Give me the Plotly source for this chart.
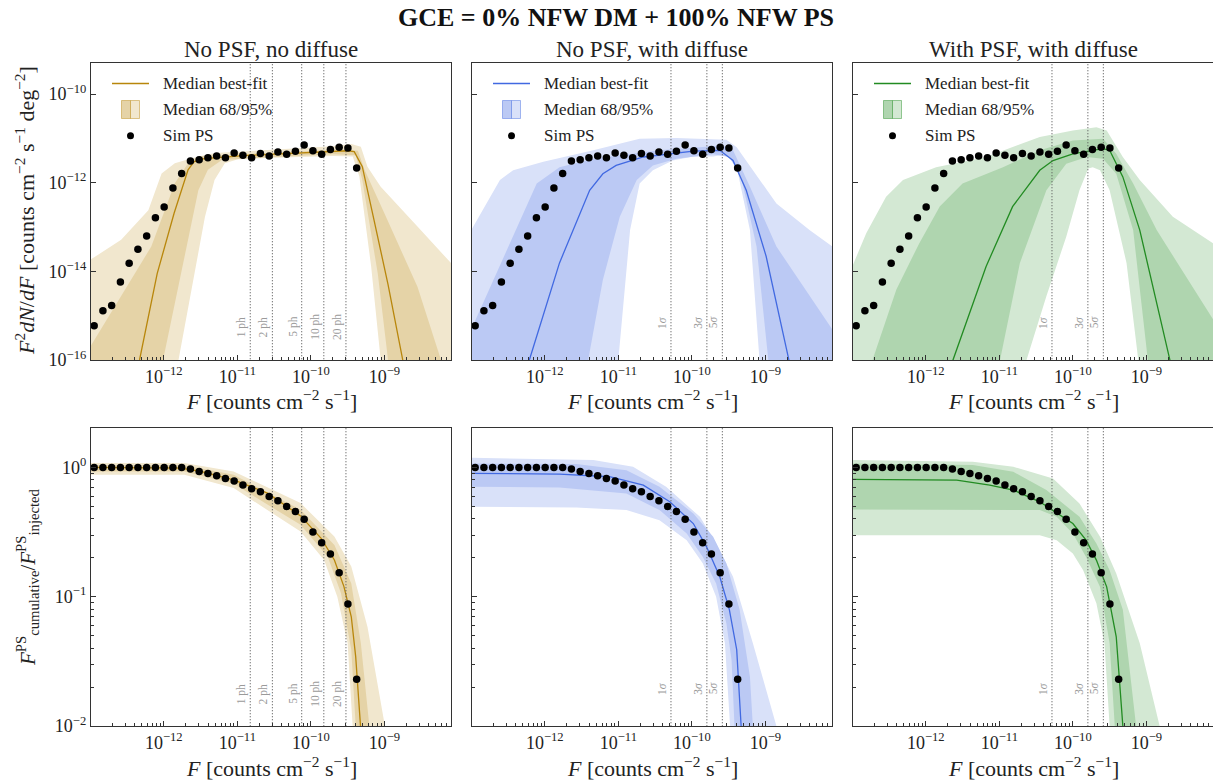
import math
import plotly.graph_objects as go

# ------------------------------------------------------------------ data
# simulated PS histogram (log10 flux bin centres)
sim_log_flux = [-12.947, -12.828, -12.709, -12.590, -12.471, -12.352, -12.233, -12.114,
                -11.995, -11.876, -11.757, -11.638, -11.519, -11.400, -11.281, -11.162,
                -11.043, -10.924, -10.805, -10.686, -10.567, -10.448, -10.329, -10.210,
                -10.091, -9.972, -9.853, -9.734, -9.615, -9.496, -9.377]
# log10 of F^2 dN/dF
sim_log_f2dnds = [-15.23, -14.89, -14.77, -14.24, -13.82, -13.50, -13.20, -12.79,
                  -12.55, -12.12, -11.79, -11.51, -11.48, -11.44, -11.40, -11.44,
                  -11.33, -11.38, -11.44, -11.34, -11.40, -11.31, -11.36, -11.29,
                  -11.15, -11.28, -11.36, -11.25, -11.20, -11.22, -11.67]
# cumulative flux fraction
sim_cumulative = [1.0, 1.0, 1.0, 1.0, 1.0, 1.0, 1.0, 1.0, 1.0, 1.0, 1.0,
                  0.971, 0.931, 0.898, 0.862, 0.822, 0.784, 0.730, 0.684, 0.648, 0.596,
                  0.552, 0.499, 0.456, 0.397, 0.317, 0.262, 0.214, 0.153, 0.0877, 0.023]

# curves: (log10 F, log10 value)
gold_top_median = [(-12.40, -16.4), (-12.33, -16.0), (-12.09, -14.05), (-11.86, -12.69), (-11.67, -11.71),
                   (-11.59, -11.53), (-11.50, -11.47), (-11.41, -11.45), (-10.82, -11.38), (-10.14, -11.32),
                   (-9.50, -11.28), (-9.41, -11.30), (-9.30, -11.64), (-9.14, -12.85), (-8.95, -14.3),
                   (-8.75, -16.0), (-8.70, -16.4)]
gold_top_95_upper = [(-13.0, -13.74), (-12.58, -13.29), (-12.21, -12.62), (-12.03, -11.79), (-11.85, -11.56),
                     (-11.62, -11.45), (-11.30, -11.33), (-10.50, -11.25), (-9.70, -11.18), (-9.45, -11.13),
                     (-9.32, -11.19), (-9.23, -11.64), (-9.05, -12.09), (-8.55, -12.99), (-8.09, -13.82)]
gold_top_95_lower = [(-13.0, -17.5), (-11.80, -16.0), (-11.44, -12.77), (-11.31, -11.94), (-11.17, -11.56),
                     (-10.99, -11.47), (-10.50, -11.44), (-9.70, -11.40), (-9.43, -11.41), (-9.34, -11.86),
                     (-9.18, -13.89), (-9.05, -16.0), (-8.09, -17.5)]
gold_top_68_upper = [(-13.0, -15.7), (-12.17, -13.44), (-11.85, -12.01), (-11.67, -11.56), (-11.50, -11.40),
                     (-10.50, -11.32), (-9.60, -11.25), (-9.36, -11.28), (-9.27, -11.71), (-9.00, -12.69),
                     (-8.55, -14.35), (-8.23, -16.0), (-8.09, -16.8)]
gold_top_68_lower = [(-13.0, -17.5), (-12.01, -16.0), (-11.53, -12.17), (-11.40, -11.71), (-11.21, -11.49),
                     (-10.50, -11.42), (-9.70, -11.36), (-9.39, -11.38), (-9.30, -11.94), (-9.09, -14.05),
                     (-8.95, -16.0), (-8.09, -17.5)]

blue_top_median = [(-12.24, -16.4), (-12.21, -16.0), (-11.80, -13.81), (-11.39, -12.17), (-11.21, -11.80),
                   (-11.03, -11.61), (-10.66, -11.42), (-9.98, -11.29), (-9.62, -11.27), (-9.44, -11.50),
                   (-9.26, -12.17), (-8.99, -13.66), (-8.68, -16.0), (-8.65, -16.4)]
blue_top_95_upper = [(-13.0, -13.07), (-12.79, -12.47), (-12.61, -11.94), (-12.43, -11.72), (-12.02, -11.53),
                     (-11.34, -11.27), (-10.71, -11.01), (-10.21, -10.99), (-9.53, -11.03), (-9.39, -11.20),
                     (-9.17, -11.72), (-8.85, -12.47), (-8.40, -13.07), (-8.09, -13.44)]
blue_top_95_lower = [(-13.0, -17.5), (-11.00, -16.0), (-10.84, -13.07), (-10.71, -12.02), (-10.53, -11.72),
                     (-10.26, -11.50), (-9.98, -11.41), (-9.71, -11.41), (-9.53, -11.36), (-9.39, -11.65),
                     (-9.21, -13.07), (-9.08, -16.0), (-8.09, -17.5)]
blue_top_68_upper = [(-13.0, -15.31), (-12.70, -14.19), (-12.39, -13.07), (-12.11, -12.02), (-11.80, -11.65),
                     (-11.34, -11.46), (-10.44, -11.27), (-9.58, -11.16), (-9.44, -11.27), (-9.21, -12.09),
                     (-8.85, -13.44), (-8.09, -15.31)]
blue_top_68_lower = [(-13.0, -17.5), (-11.41, -16.0), (-11.21, -14.19), (-10.98, -12.77), (-10.75, -11.94),
                     (-10.53, -11.61), (-10.21, -11.46), (-9.71, -11.36), (-9.49, -11.42), (-9.33, -11.87),
                     (-9.12, -13.44), (-8.96, -16.0), (-8.09, -17.5)]

green_top_median = [(-11.65, -16.4), (-11.63, -16.0), (-11.18, -13.89), (-10.82, -12.54), (-10.45, -11.72),
                    (-10.27, -11.50), (-10.00, -11.35), (-9.59, -11.23), (-9.50, -11.27), (-9.32, -11.87),
                    (-9.09, -13.07), (-8.68, -16.0), (-8.65, -16.4)]
green_top_95_upper = [(-13.0, -13.89), (-12.81, -13.14), (-12.54, -12.32), (-12.31, -11.94), (-11.86, -11.65),
                      (-11.18, -11.42), (-10.45, -10.97), (-10.00, -10.82), (-9.68, -10.75), (-9.54, -10.82),
                      (-9.32, -11.42), (-9.09, -11.94), (-8.64, -12.77), (-8.09, -13.37)]
green_top_95_lower = [(-13.0, -17.5), (-10.63, -16.0), (-10.36, -14.56), (-10.09, -13.22), (-9.91, -12.17),
                      (-9.79, -11.68), (-9.73, -11.65), (-9.63, -11.72), (-9.50, -12.17), (-9.27, -13.81),
                      (-9.11, -16.0), (-8.09, -17.5)]
green_top_68_upper = [(-12.76, -16.4), (-12.72, -15.98), (-12.40, -14.41), (-12.09, -13.37), (-11.81, -12.54),
                      (-11.50, -12.02), (-10.95, -11.65), (-10.45, -11.27), (-10.00, -11.05), (-9.59, -11.01),
                      (-9.41, -11.35), (-9.18, -12.02), (-8.86, -13.07), (-8.09, -15.09)]
green_top_68_lower = [(-12.80, -17.5), (-10.99, -16.0), (-10.72, -13.81), (-10.36, -12.17), (-10.09, -11.57),
                      (-9.81, -11.42), (-9.59, -11.46), (-9.41, -11.80), (-9.18, -13.07), (-8.98, -16.0),
                      (-8.09, -17.5)]

gold_bot_median = [(-13.0, 0.0), (-11.77, -0.005), (-11.50, -0.031), (-11.05, -0.096), (-10.59, -0.199),
                   (-10.14, -0.375), (-9.86, -0.548), (-9.68, -0.716), (-9.55, -0.922), (-9.45, -1.155),
                   (-9.39, -1.465), (-9.32, -2.0), (-9.30, -2.2)]
gold_bot_95_upper = [(-13.0, 0.034), (-11.72, 0.034), (-11.05, -0.031), (-10.14, -0.276), (-9.68, -0.535),
                     (-9.45, -0.767), (-9.23, -1.233), (-8.98, -2.0), (-8.90, -2.3)]
gold_bot_95_lower = [(-13.0, -0.057), (-11.72, -0.057), (-11.05, -0.160), (-10.14, -0.496), (-9.82, -0.716),
                     (-9.64, -1.0), (-9.50, -1.36), (-9.43, -2.0), (-9.40, -2.3)]
gold_bot_68_upper = [(-13.0, 0.016), (-11.72, 0.016), (-11.05, -0.057), (-10.14, -0.328), (-9.68, -0.600),
                     (-9.45, -0.897), (-9.32, -1.36), (-9.20, -2.0), (-9.15, -2.3)]
gold_bot_68_lower = [(-13.0, -0.031), (-11.72, -0.031), (-11.05, -0.127), (-10.14, -0.444), (-9.77, -0.690),
                     (-9.59, -0.974), (-9.45, -1.413), (-9.39, -2.0), (-9.36, -2.3)]

blue_bot_median = [(-13.0, -0.046), (-11.80, -0.052), (-11.12, -0.072), (-10.66, -0.137), (-10.30, -0.266),
                   (-9.98, -0.434), (-9.80, -0.614), (-9.62, -0.846), (-9.49, -1.10), (-9.39, -1.41),
                   (-9.33, -2.0), (-9.32, -2.2)]
blue_bot_95_upper = [(-13.0, 0.075), (-11.34, 0.057), (-10.80, 0.005), (-10.35, -0.150), (-9.89, -0.382),
                     (-9.67, -0.588), (-9.44, -0.846), (-9.17, -1.36), (-8.85, -2.0), (-8.80, -2.2)]
blue_bot_95_lower = [(-13.0, -0.305), (-11.57, -0.310), (-10.89, -0.330), (-10.44, -0.408), (-10.07, -0.563),
                     (-9.85, -0.743), (-9.67, -1.0), (-9.55, -1.36), (-9.48, -2.0), (-9.47, -2.2)]
blue_bot_68_upper = [(-13.0, 0.031), (-11.57, 0.026), (-10.89, -0.021), (-10.44, -0.150), (-9.98, -0.356),
                     (-9.71, -0.537), (-9.53, -0.743), (-9.35, -1.10), (-9.21, -1.62), (-9.17, -2.0), (-9.15, -2.2)]
blue_bot_68_lower = [(-13.0, -0.150), (-11.80, -0.155), (-10.89, -0.201), (-10.44, -0.330), (-10.07, -0.511),
                     (-9.85, -0.692), (-9.67, -0.898), (-9.53, -1.208), (-9.46, -1.49), (-9.42, -2.0), (-9.41, -2.2)]

green_bot_median = [(-13.0, -0.093), (-11.58, -0.098), (-11.13, -0.137), (-10.81, -0.175), (-10.45, -0.266),
                    (-10.00, -0.434), (-9.82, -0.563), (-9.68, -0.717), (-9.54, -0.924), (-9.41, -1.31),
                    (-9.32, -2.0), (-9.31, -2.2)]
green_bot_95_upper = [(-13.0, 0.057), (-11.36, 0.044), (-10.81, 0.005), (-10.27, -0.085), (-9.91, -0.279),
                      (-9.63, -0.537), (-9.41, -0.821), (-9.09, -1.36), (-8.82, -2.0), (-8.78, -2.2)]
green_bot_95_lower = [(-13.0, -0.524), (-10.45, -0.524), (-10.22, -0.563), (-10.00, -0.666), (-9.86, -0.795),
                      (-9.68, -1.05), (-9.57, -1.36), (-9.50, -2.0), (-9.49, -2.2)]
green_bot_68_upper = [(-13.0, 0.031), (-11.36, 0.018), (-10.81, -0.034), (-10.36, -0.175), (-9.91, -0.382),
                      (-9.68, -0.588), (-9.50, -0.795), (-9.32, -1.10), (-9.14, -2.0), (-9.12, -2.2)]
green_bot_68_lower = [(-13.0, -0.325), (-10.45, -0.330), (-10.22, -0.382), (-10.00, -0.511), (-9.82, -0.692),
                      (-9.63, -0.924), (-9.50, -1.36), (-9.43, -2.0), (-9.42, -2.2)]

ph_flux = [1.5e-11, 3e-11, 7.5e-11, 1.5e-10, 3e-10]
ph_labels = ["1 ph", "2 ph", "5 ph", "10 ph", "20 ph"]
sigma_flux = [5.2e-11, 1.6e-10, 2.6e-10]
sigma_labels = ["1<i>σ</i>", "3<i>σ</i>", "5<i>σ</i>"]

panel_titles = ["No PSF, no diffuse", "No PSF, with diffuse", "With PSF, with diffuse"]
main_title = "GCE = 0% NFW DM + 100% NFW PS"
legend_labels = ["Median best-fit", "Median 68/95%", "Sim PS"]

x_ticks = [1e-12, 1e-11, 1e-10, 1e-9]
x_ticktext = ["10<sup>−12</sup>", "10<sup>−11</sup>", "10<sup>−10</sup>", "10<sup>−9</sup>"]
ytop_ticks = [1e-16, 1e-14, 1e-12, 1e-10]
ytop_ticktext = ["10<sup>−16</sup>", "10<sup>−14</sup>", "10<sup>−12</sup>", "10<sup>−10</sup>"]
ybot_ticks = [1e-2, 1e-1, 1.0]
ybot_ticktext = ["10<sup>−2</sup>", "10<sup>−1</sup>", "10<sup>0</sup>"]

# ------------------------------------------------------------------ style
W, H = 1213, 781
FONT = "Liberation Serif"
themes = [
    dict(line="#b8860b", light="rgb(241,231,206)", dark="rgb(229,211,167)", edge="rgba(184,134,11,0.45)"),
    dict(line="#4169e1", light="rgb(217,225,249)", dark="rgb(187,201,244)", edge="rgba(65,105,225,0.45)"),
    dict(line="#228b22", light="rgb(211,232,211)", dark="rgb(175,213,175)", edge="rgba(34,139,34,0.45)"),
]
top_curves = [
    (gold_top_median, gold_top_95_upper, gold_top_95_lower, gold_top_68_upper, gold_top_68_lower),
    (blue_top_median, blue_top_95_upper, blue_top_95_lower, blue_top_68_upper, blue_top_68_lower),
    (green_top_median, green_top_95_upper, green_top_95_lower, green_top_68_upper, green_top_68_lower),
]
bot_curves = [
    (gold_bot_median, gold_bot_95_upper, gold_bot_95_lower, gold_bot_68_upper, gold_bot_68_lower),
    (blue_bot_median, blue_bot_95_upper, blue_bot_95_lower, blue_bot_68_upper, blue_bot_68_lower),
    (green_bot_median, green_bot_95_upper, green_bot_95_lower, green_bot_68_upper, green_bot_68_lower),
]

col_px = [(91, 451), (472, 832), (853, 1213)]
row_px = [(63, 360), (428, 726)]


def X(px):
    return px / W


def Y(py):
    return 1 - py / H


def pts(seq):
    return [10 ** a for a, b in seq], [10 ** b for a, b in seq]


def band(upper, lower):
    ux, uy = pts(upper)
    lx, ly = pts(lower)
    return ux + lx[::-1], uy + ly[::-1]


fig = go.Figure()
annotations = []
shapes = []
layout_axes = {}

sim_flux = [10 ** v for v in sim_log_flux]
sim_f2 = [10 ** v for v in sim_log_f2dnds]

minor_x = [m * 10 ** k for k in range(-13, -8) for m in range(2, 10)]
minor_ybot = [m * 10 ** k for k in (-2, -1, 0) for m in range(2, 10)]

for i in range(6):
    row, col = divmod(i, 3)
    xa = "x" if i == 0 else f"x{i + 1}"
    ya = "y" if i == 0 else f"y{i + 1}"
    th = themes[col]
    curves = top_curves[col] if row == 0 else bot_curves[col]
    med, u95, l95, u68, l68 = curves

    bx, by = band(u95, l95)
    fig.add_trace(go.Scatter(x=bx, y=by, fill="toself", fillcolor=th["light"], mode="lines",
                             line=dict(width=0), xaxis=xa, yaxis=ya, hoverinfo="skip"))
    bx, by = band(u68, l68)
    fig.add_trace(go.Scatter(x=bx, y=by, fill="toself", fillcolor=th["dark"], mode="lines",
                             line=dict(width=0), xaxis=xa, yaxis=ya, hoverinfo="skip"))
    mx, my = pts(med)
    fig.add_trace(go.Scatter(x=mx, y=my, mode="lines", line=dict(color=th["line"], width=1.3),
                             xaxis=xa, yaxis=ya, hoverinfo="skip"))

    vflux = ph_flux if col == 0 else sigma_flux
    vlab = ph_labels if col == 0 else sigma_labels
    ylim = (1e-17, 1e-9) if row == 0 else (1e-3, 3.0)
    for v, lab in zip(vflux, vlab):
        fig.add_trace(go.Scatter(x=[v, v], y=list(ylim), mode="lines",
                                 line=dict(color="#555555", width=1.1, dash="1px,2px"),
                                 xaxis=xa, yaxis=ya, hoverinfo="skip"))
        if col == 0:
            ly = 327 if row == 0 else 694
        else:
            ly = 322 if row == 0 else 688
        annotations.append(dict(x=math.log10(v), y=Y(ly), xref=xa, yref="paper", text=lab,
                                textangle=-90, showarrow=False, xanchor="center", yanchor="middle",
                                xshift=-9, font=dict(family=FONT, size=11.5, color="#9a9a9a")))

    yvals = sim_f2 if row == 0 else sim_cumulative
    fig.add_trace(go.Scatter(x=sim_flux, y=yvals, mode="markers",
                             marker=dict(color="black", size=7.5, line=dict(width=0)),
                             xaxis=xa, yaxis=ya, hoverinfo="skip", cliponaxis=False))

    x0, x1 = col_px[col]
    y0, y1 = row_px[row]
    axis_common = dict(showline=True, linecolor="#333333", linewidth=1.3, mirror=True,
                       showgrid=False, zeroline=False, ticks="inside", ticklen=5,
                       tickcolor="#333333", tickwidth=1, automargin=False,
                       tickfont=dict(family=FONT, size=18, color="#222222"))
    xkey = "xaxis" if i == 0 else f"xaxis{i + 1}"
    ykey = "yaxis" if i == 0 else f"yaxis{i + 1}"
    layout_axes[xkey] = dict(axis_common, type="log", range=[-12.99, -8.094],
                             domain=[X(x0), X(x1)], anchor=ya,
                             tickmode="array", tickvals=x_ticks, ticktext=x_ticktext,
                             minor=dict(tickmode="array", tickvals=minor_x, ticks="inside",
                                        ticklen=2.5, tickcolor="#333333"))
    if row == 0:
        layout_axes[ykey] = dict(axis_common, type="log", range=[-16, -9.3],
                                 domain=[Y(y1), Y(y0)], anchor=xa,
                                 tickmode="array", tickvals=ytop_ticks, ticktext=ytop_ticktext,
                                 showticklabels=(col == 0))
    else:
        layout_axes[ykey] = dict(axis_common, type="log", range=[-2, 0.305],
                                 domain=[Y(y1), Y(y0)], anchor=xa,
                                 tickmode="array", tickvals=ybot_ticks, ticktext=ybot_ticktext,
                                 showticklabels=(col == 0),
                                 minor=dict(tickmode="array", tickvals=minor_ybot, ticks="inside",
                                            ticklen=2.5, tickcolor="#333333"))

    # x axis title
    annotations.append(dict(x=X((x0 + x1) / 2), y=Y(400 if row == 0 else 767), xref="paper", yref="paper",
                            text="<i>F</i> [counts cm<sup>−2</sup> s<sup>−1</sup>]", showarrow=False,
                            xanchor="center", yanchor="middle",
                            font=dict(family=FONT, size=22, color="#222222")))

    if row == 0:
        # panel title
        annotations.append(dict(x=X((x0 + x1) / 2), y=Y(50), xref="paper", yref="paper",
                                text=panel_titles[col], showarrow=False, xanchor="center", yanchor="middle",
                                font=dict(family=FONT, size=23, color="#222222")))
        # legend
        L = x0
        shapes.append(dict(type="line", xref="paper", yref="paper", x0=X(L + 21), x1=X(L + 58),
                           y0=Y(83.5), y1=Y(83.5), line=dict(color=th["line"], width=1.5)))
        shapes.append(dict(type="rect", xref="paper", yref="paper", x0=X(L + 30.5), x1=X(L + 39.5),
                           y0=Y(118.5), y1=Y(100.5), fillcolor=th["dark"], line=dict(color=th["edge"], width=1)))
        shapes.append(dict(type="rect", xref="paper", yref="paper", x0=X(L + 39.5), x1=X(L + 48.5),
                           y0=Y(118.5), y1=Y(100.5), fillcolor=th["light"], line=dict(color=th["edge"], width=1)))
        shapes.append(dict(type="circle", xref="paper", yref="paper", x0=X(L + 36), x1=X(L + 43),
                           y0=Y(139.2), y1=Y(132.2), fillcolor="black", line=dict(color="black", width=0)))
        for lab, ty in zip(legend_labels, [83.5, 109.5, 135.7]):
            annotations.append(dict(x=X(L + 70), y=Y(ty), xref="paper", yref="paper", text=lab,
                                    showarrow=False, xanchor="left", yanchor="middle",
                                    font=dict(family=FONT, size=17, color="#222222")))

# y axis titles
annotations.append(dict(x=X(25), y=Y(211), xref="paper", yref="paper",
                        text="<i>F</i><sup>2</sup><i>dN</i>/<i>dF</i> [counts cm<sup>−2</sup> s<sup>−1</sup> deg<sup>−2</sup>]",
                        textangle=-90, showarrow=False, xanchor="center", yanchor="middle",
                        font=dict(family=FONT, size=22, color="#222222")))
annotations.append(dict(x=X(27), y=Y(577), xref="paper", yref="paper",
                        text="<i>F</i><sup>PS</sup><sub>cumulative</sub>/<i>F</i><sup>PS</sup><sub>injected</sub>",
                        textangle=-90, showarrow=False, xanchor="center", yanchor="middle",
                        font=dict(family=FONT, size=21, color="#222222")))
# main title
annotations.append(dict(x=X(616), y=Y(17), xref="paper", yref="paper",
                        text="<b>" + main_title + "</b>", showarrow=False, xanchor="center", yanchor="middle",
                        font=dict(family=FONT, size=26, color="#111111")))

fig.update_layout(width=W, height=H, margin=dict(l=0, r=0, t=0, b=0, autoexpand=False),
                  paper_bgcolor="white", plot_bgcolor="white", showlegend=False,
                  annotations=annotations, shapes=shapes, **layout_axes)

fig.write_html("out.html", config={"displayModeBar": False},
               post_script="document.body.style.margin='0';document.body.style.padding='0';"
                           "document.body.style.overflow='hidden';")
